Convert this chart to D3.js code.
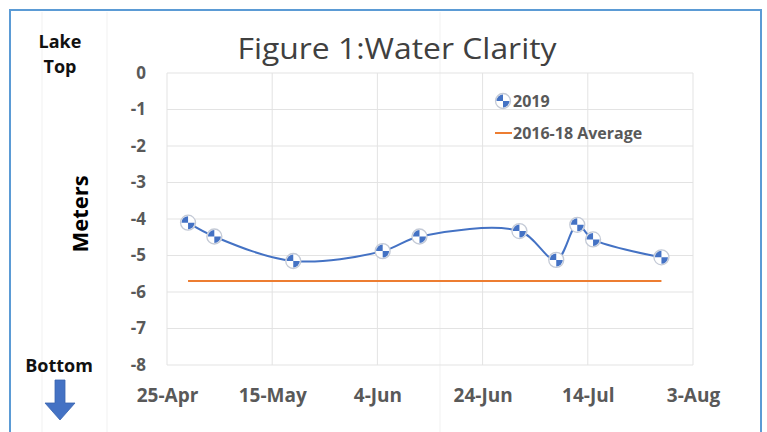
<!DOCTYPE html>
<html><head><meta charset="utf-8">
<script src="https://cdn.jsdelivr.net/npm/d3@7"></script>
<style>html,body{margin:0;padding:0;background:#fff;}svg{display:block;}</style>
</head><body>
<script>
// ---- data ----
const dates2019 = ["2019-04-29","2019-05-04","2019-05-19","2019-06-05","2019-06-12","2019-07-01","2019-07-08","2019-07-12","2019-07-15","2019-07-28"];
const values2019 = [-4.10,-4.48,-5.15,-4.88,-4.48,-4.33,-5.12,-4.16,-4.56,-5.05];
const avgDates = ["2019-04-29","2019-07-28"];
const avgValues = [-5.70,-5.70];
const xTickDates = ["2019-04-25","2019-05-15","2019-06-04","2019-06-24","2019-07-14","2019-08-03"];
const yTicks = [0,-1,-2,-3,-4,-5,-6,-7,-8];
const seriesNames = ["2019","2016-18 Average"];
const titleText = "Figure 1:Water Clarity";

const W = 767, H = 432;
const parse = d3.timeParse("%Y-%m-%d");
const svg = d3.select("body").append("svg").attr("width", W).attr("height", H);
const font = "'Open Sans', 'Liberation Sans', sans-serif";

// faint spreadsheet cell lines
[42,107,440].forEach(xx => svg.append("line").attr("x1",xx).attr("x2",xx).attr("y1",12).attr("y2",H)
  .attr("stroke","#f1f1f1").attr("stroke-width",1));

// outer blue frame
svg.append("path").attr("d",`M10,${H+5}V10H761V${H+5}`).attr("fill","none")
  .attr("stroke","#5b9bd5").attr("stroke-width",2);

const pL = 167, pR = 693, pT = 73, pB = 365;
const x = d3.scaleTime().domain([parse(xTickDates[0]), parse(xTickDates[xTickDates.length-1])]).range([pL,pR]);
const y = d3.scaleLinear().domain([0,-8]).range([pT,pB]);

// gridlines
const g = svg.append("g");
g.selectAll(".hg").data(yTicks).join("line")
  .attr("x1",pL).attr("x2",pR).attr("y1",d=>y(d)).attr("y2",d=>y(d))
  .attr("stroke","#e3e3e3").attr("stroke-width",1);
g.selectAll(".vg").data(xTickDates).join("line")
  .attr("x1",d=>x(parse(d))).attr("x2",d=>x(parse(d))).attr("y1",pT).attr("y2",pB)
  .attr("stroke","#e3e3e3").attr("stroke-width",1);

// axes (labels only)
const xAxis = svg.append("g").attr("transform",`translate(0,${pB})`)
  .call(d3.axisBottom(x).tickValues(xTickDates.map(parse)).tickFormat(d3.timeFormat("%-d-%b")).tickSize(0).tickPadding(24));
xAxis.select(".domain").remove();
xAxis.selectAll("text").attr("font-family",font).attr("font-weight","bold").attr("font-size","19px").attr("fill","#595959");

const yAxis = svg.append("g").attr("transform",`translate(${pL},0)`)
  .call(d3.axisLeft(y).tickValues(yTicks).tickFormat(d3.format("d")).tickSize(0).tickPadding(21));
yAxis.select(".domain").remove();
yAxis.selectAll("text").attr("font-family",font).attr("font-weight","bold").attr("font-size","17px").attr("fill","#595959")
  .text(d => d === 0 ? "0" : "-" + Math.abs(d));

// average line
const pts2019 = dates2019.map((d,i)=>({d:parse(d), v:values2019[i]}));
const ptsAvg = avgDates.map((d,i)=>({d:parse(d), v:avgValues[i]}));
svg.append("path").datum(ptsAvg)
  .attr("d", d3.line().x(p=>x(p.d)).y(p=>y(p.v)))
  .attr("fill","none").attr("stroke","#ed7d31").attr("stroke-width",2);

// 2019 smoothed line
svg.append("path").datum(pts2019)
  .attr("d", d3.line().curve(d3.curveCatmullRom.alpha(0.5)).x(p=>x(p.d)).y(p=>y(p.v)))
  .attr("fill","none").attr("stroke","#4472c4").attr("stroke-width",2);

// markers
const r = 7.5;
const arc = d3.arc().innerRadius(0).outerRadius(r-1);
function marker(sel){
  sel.append("circle").attr("r",r).attr("fill","#fff").attr("stroke","#c4cad6").attr("stroke-width",1.3);
  sel.append("path").attr("d",arc({startAngle:-Math.PI/2,endAngle:0})).attr("fill","#4472c4");
  sel.append("path").attr("d",arc({startAngle:Math.PI/2,endAngle:Math.PI})).attr("fill","#4472c4");
}
svg.selectAll(".mk").data(pts2019).join("g").attr("class","mk")
  .attr("transform",p=>`translate(${x(p.d)},${y(p.v)})`).each(function(){ marker(d3.select(this)); });

// legend
const lg = svg.append("g");
const m = lg.append("g").attr("transform","translate(503,101)");
m.append("line").attr("x1",-8).attr("x2",8).attr("stroke","#4472c4").attr("stroke-width",2);
marker(m);
lg.append("text").attr("x",513).attr("y",107).text(seriesNames[0])
  .attr("font-family",font).attr("font-weight","bold").attr("font-size","16px").attr("fill","#595959");
lg.append("line").attr("x1",495).attr("x2",512).attr("y1",133).attr("y2",133).attr("stroke","#ed7d31").attr("stroke-width",2);
lg.append("text").attr("x",513).attr("y",139).text(seriesNames[1])
  .attr("font-family",font).attr("font-weight","bold").attr("font-size","16px").attr("fill","#595959");

// title
svg.append("text").attr("x",397).attr("y",59).attr("text-anchor","middle").text(titleText)
  .attr("font-family",font).attr("font-size","29px").attr("fill","#404040")
  .attr("textLength",319).attr("lengthAdjust","spacingAndGlyphs");

// Meters label
svg.append("text").attr("transform","translate(88,214) rotate(-90)").attr("text-anchor","middle").text("Meters")
  .attr("font-family",font).attr("font-weight","bold").attr("font-size","22px").attr("fill","#000");

// Lake Top / Bottom
[["Lake",48],["Top",73]].forEach(([t,yy])=>svg.append("text").attr("x",60).attr("y",yy).attr("text-anchor","middle").text(t)
  .attr("font-family",font).attr("font-weight","bold").attr("font-size","18px").attr("fill","#111"));
svg.append("text").attr("x",59).attr("y",372).attr("text-anchor","middle").text("Bottom")
  .attr("font-family",font).attr("font-weight","bold").attr("font-size","18px").attr("fill","#111");

// down arrow
svg.append("path").attr("d","M55,380H65V403H75L60,420L45,403H55Z").attr("fill","#4472c4").attr("stroke","#3a64b0").attr("stroke-width",0.8);
</script>
</body></html>
